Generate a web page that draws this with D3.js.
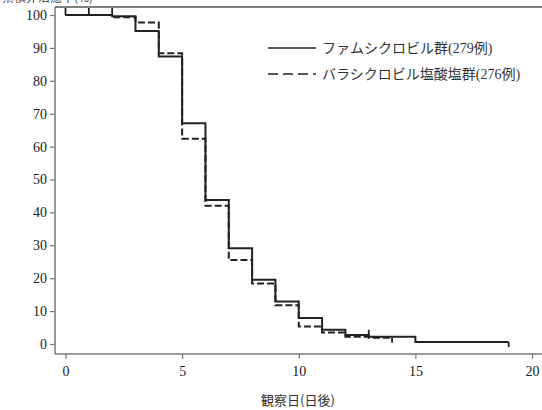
<!DOCTYPE html>
<html>
<head>
<meta charset="utf-8">
<script src="https://cdn.jsdelivr.net/npm/d3@7"></script>
<style>
  body { margin: 0; background: #fff; }
  svg { display: block; }
</style>
</head>
<body>
<div id="chart"></div>
<script>
// step data: [day, percent not healed]
const famDays = [0, 2, 3, 4, 5, 6, 7, 8, 9, 10, 11, 12, 13, 15, 19];
const famVals = [100, 99.6, 95.1, 87.4, 67.1, 43.8, 29.1, 19.5, 12.9, 7.9, 4.3, 2.7, 2.2, 0.6, 0.6];
const valDays = [0, 2, 3, 4, 5, 6, 7, 8, 9, 10, 11, 12, 13, 14];
const valVals = [100, 99.3, 97.7, 88.4, 62.4, 42.0, 25.5, 18.4, 11.8, 5.3, 3.5, 2.2, 1.9, 1.9];
// censor marks
const censorUpDays = [0, 1, 2, 13];
const censorUpVals = [100, 100, 100, 2.2];
const censorDownDays = [14, 19];
const censorDownVals = [1.9, 0.6];

const xTicks = [0, 5, 10, 15, 20];
const yTicks = [0, 10, 20, 30, 40, 50, 60, 70, 80, 90, 100];
const legendLabels = ["ファムシクロビル群(279例)", "バラシクロビル塩酸塩群(276例)"];
const xTitle = "観察日(日後)";
const yTitle = "累積非治癒率(%)";

const width = 542, height = 410;
const fontNum = "'Liberation Serif', 'Noto Sans CJK JP', serif";

const svg = d3.select("#chart").append("svg")
  .attr("width", width)
  .attr("height", height);

const x = d3.scaleLinear().domain([0, 20]).range([65.5, 532]);
const y = d3.scaleLinear().domain([0, 100]).range([344, 15]);

const axisColor = "#777";
const plotLeft = 55, plotBottom = 354, plotTop = 7;

// frame lines
svg.append("line").attr("x1", plotLeft).attr("x2", width).attr("y1", plotTop).attr("y2", plotTop)
  .attr("stroke", "#555").attr("stroke-width", 1.5);
svg.append("line").attr("x1", plotLeft).attr("x2", plotLeft).attr("y1", plotTop).attr("y2", plotBottom)
  .attr("stroke", axisColor).attr("stroke-width", 1.5);
svg.append("line").attr("x1", plotLeft).attr("x2", width).attr("y1", plotBottom).attr("y2", plotBottom)
  .attr("stroke", axisColor).attr("stroke-width", 1.5);

// y axis
const yAxis = svg.append("g").attr("transform", "translate(" + plotLeft + ",0)")
  .call(d3.axisLeft(y).tickValues(yTicks).tickSize(5).tickPadding(3));
yAxis.select(".domain").remove();
yAxis.selectAll("line").attr("stroke", axisColor).attr("stroke-width", 1.2);
yAxis.selectAll("text").attr("font-family", fontNum).attr("font-size", 14).attr("fill", "#222");

// x axis
const xAxis = svg.append("g").attr("transform", "translate(0," + plotBottom + ")")
  .call(d3.axisBottom(x).tickValues(xTicks).tickSize(5).tickPadding(7));
xAxis.select(".domain").remove();
xAxis.selectAll("line").attr("stroke", axisColor).attr("stroke-width", 1.2);
xAxis.selectAll("text").attr("font-family", fontNum).attr("font-size", 14).attr("fill", "#222");

svg.append("text")
  .attr("x", 298).attr("y", 405)
  .attr("text-anchor", "middle")
  .attr("font-family", "'Noto Sans CJK JP', sans-serif")
  .attr("font-size", 13).attr("fill", "#333")
  .text(xTitle);

svg.append("text")
  .attr("x", 2).attr("y", 2)
  .attr("font-family", "'Noto Sans CJK JP', sans-serif")
  .attr("font-size", 12).attr("fill", "#444")
  .text(yTitle);

// curves
const line = d3.line()
  .x(d => x(d[0]))
  .y(d => y(d[1]))
  .curve(d3.curveStepAfter);

svg.append("path")
  .datum(d3.zip(valDays, valVals))
  .attr("d", line)
  .attr("fill", "none")
  .attr("stroke", "#222")
  .attr("stroke-width", 2)
  .attr("stroke-dasharray", "7,3");

svg.append("path")
  .datum(d3.zip(famDays, famVals))
  .attr("d", line)
  .attr("fill", "none")
  .attr("stroke", "#222")
  .attr("stroke-width", 2);

svg.selectAll(".cup")
  .data(d3.zip(censorUpDays, censorUpVals))
  .enter().append("line")
  .attr("x1", d => x(d[0])).attr("x2", d => x(d[0]))
  .attr("y1", d => y(d[1])).attr("y2", d => y(d[1]) - 7)
  .attr("stroke", "#222").attr("stroke-width", 1.8);

svg.selectAll(".cdown")
  .data(d3.zip(censorDownDays, censorDownVals))
  .enter().append("line")
  .attr("x1", d => x(d[0])).attr("x2", d => x(d[0]))
  .attr("y1", d => y(d[1])).attr("y2", d => y(d[1]) + 5)
  .attr("stroke", "#222").attr("stroke-width", 1.8);

// legend
const legend = svg.append("g").attr("transform", "translate(268,48)");
legend.selectAll("line")
  .data(legendLabels)
  .enter().append("line")
  .attr("x1", 0).attr("x2", 48)
  .attr("y1", (d, i) => i * 26).attr("y2", (d, i) => i * 26)
  .attr("stroke", "#222").attr("stroke-width", 1.6)
  .attr("stroke-dasharray", (d, i) => i === 1 ? "10,5" : null);
legend.selectAll("text")
  .data(legendLabels)
  .enter().append("text")
  .attr("x", 54).attr("y", (d, i) => i * 26 + 5)
  .attr("font-family", fontNum)
  .attr("font-size", 14).attr("fill", "#333")
  .text(d => d);
</script>
</body>
</html>
